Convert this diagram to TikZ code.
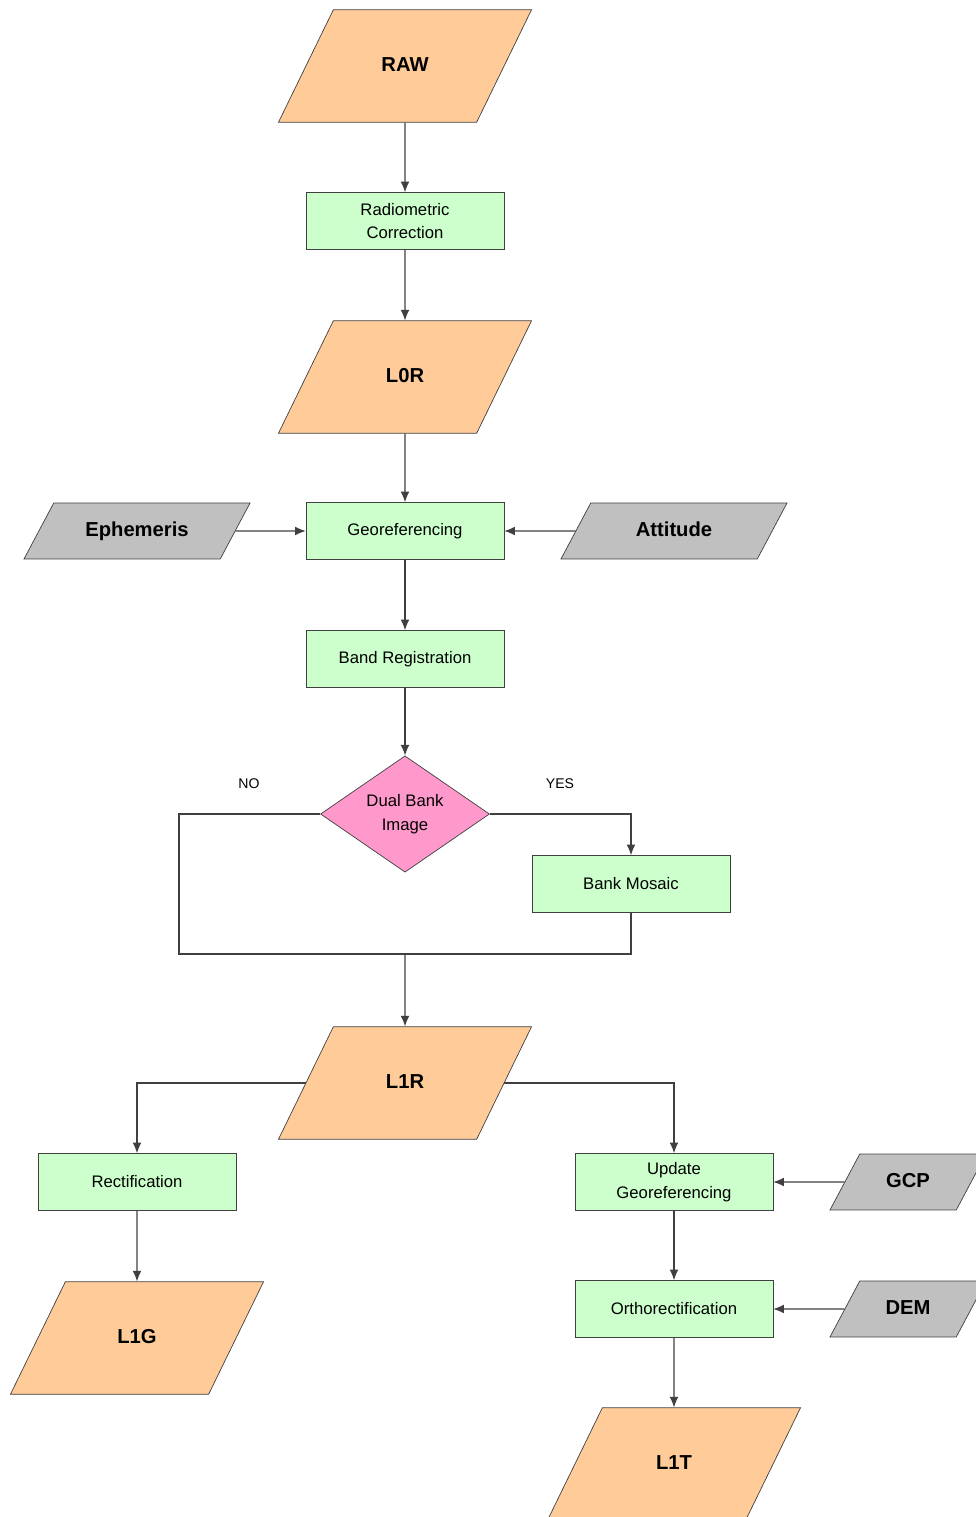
\documentclass[tikz,border=0pt]{standalone}
\usepackage{fontspec}
\setmainfont{Liberation Sans}
\usetikzlibrary{shapes.geometric,arrows.meta}
\definecolor{datafill}{HTML}{FFCC99}
\definecolor{procfill}{HTML}{CCFFCC}
\definecolor{auxfill}{HTML}{C0C0C0}
\definecolor{testfill}{HTML}{FF99CC}
\definecolor{linegray}{HTML}{404040}
\begin{document}
\begin{tikzpicture}[
  data/.style={trapezium,trapezium left angle=64,trapezium right angle=116,
    trapezium stretches body,draw=linegray,fill=datafill,
    inner xsep=0pt,inner ysep=27pt,text height=8pt,text depth=2pt,
    minimum width=5.06cm,
    font=\bfseries\fontsize{11.5}{13}\selectfont},
  aux/.style={trapezium,trapezium left angle=62,trapezium right angle=118,
    trapezium stretches body,draw=linegray,fill=auxfill,
    inner xsep=0pt,inner ysep=10.9pt,text height=8pt,text depth=2pt,
    minimum width=4.52cm,
    font=\bfseries\fontsize{11.5}{13}\selectfont},
  proc/.style={rectangle,draw=linegray,fill=procfill,inner sep=0pt,
    minimum width=3.96cm,minimum height=1.14cm,align=center,
    font=\fontsize{9.5}{13.5}\selectfont},
  test/.style={diamond,draw=linegray,fill=testfill,inner sep=0pt,
    minimum width=3.38cm,minimum height=2.24cm,align=center,
    font=\fontsize{9.5}{13.5}\selectfont},
  flow/.style={-{Latex[length=6pt,width=5pt]},linegray,semithick},
  link/.style={-,linegray,semithick},
  tag/.style={font=\fontsize{8}{9}\selectfont}
]
\useasboundingbox (0,0) rectangle (19.5,-30.34);

%Main chain
\node[data] (raw) at (8.1,-1.32){RAW};
\node[proc] (radio) at (8.1,-4.42){Radiometric\\Correction};
\node[data] (l0r) at (8.1,-7.54){L0R};
\node[proc] (geo) at (8.1,-10.62){Georeferencing};
\node[proc] (band) at (8.1,-13.18){Band Registration};

%Inputs to georeferencing
\node[aux] (eph) at (2.74,-10.62){Ephemeris};
\node[aux] (att) at (13.48,-10.62){Attitude};

%Decision
\node[test] (dual) at (8.1,-16.28){Dual Bank\\Image};
\node[proc] (bank) at (12.62,-17.68){Bank Mosaic};
\node[tag] (no) at (4.98,-15.68){NO};
\node[tag] (yes) at (11.2,-15.68){YES};
\coordinate (nocorner) at (3.58,-16.28);
\coordinate (nobottom) at (3.58,-19.08);
\coordinate (join) at (8.1,-19.08);

%Level 1
\node[data] (l1r) at (8.1,-21.66){L1R};
\node[proc] (rect) at (2.74,-23.64){Rectification};
\node[data] (l1g) at (2.74,-26.76){L1G};
\node[proc] (upd) at (13.48,-23.64){Update\\Georeferencing};
\node[proc] (ortho) at (13.48,-26.18){Orthorectification};
\node[data] (l1t) at (13.48,-29.28){L1T};
\node[aux,minimum width=3.12cm] (gcp) at (18.16,-23.64){GCP};
\node[aux,minimum width=3.12cm] (dem) at (18.16,-26.18){DEM};

\draw[flow] (raw) -- (radio);
\draw[flow] (radio) -- (l0r);
\draw[flow] (l0r) -- (geo);
\draw[flow] (eph) -- (geo);
\draw[flow] (att) -- (geo);
\draw[flow] (geo) -- (band);
\draw[flow] (band) -- (dual);
\draw[flow] (dual.east) -| (bank.north);
\draw[link] (dual.west) -- (nocorner) -- (nobottom) -| (bank.south);
\draw[flow,thick] (join) -- (l1r);
\draw[flow] (l1r) -| (rect);
\draw[flow] (l1r) -| (upd);
\draw[flow] (rect) -- (l1g);
\draw[flow] (gcp) -- (upd);
\draw[flow] (upd) -- (ortho);
\draw[flow] (dem) -- (ortho);
\draw[flow] (ortho) -- (l1t);

\end{tikzpicture}
\end{document}
